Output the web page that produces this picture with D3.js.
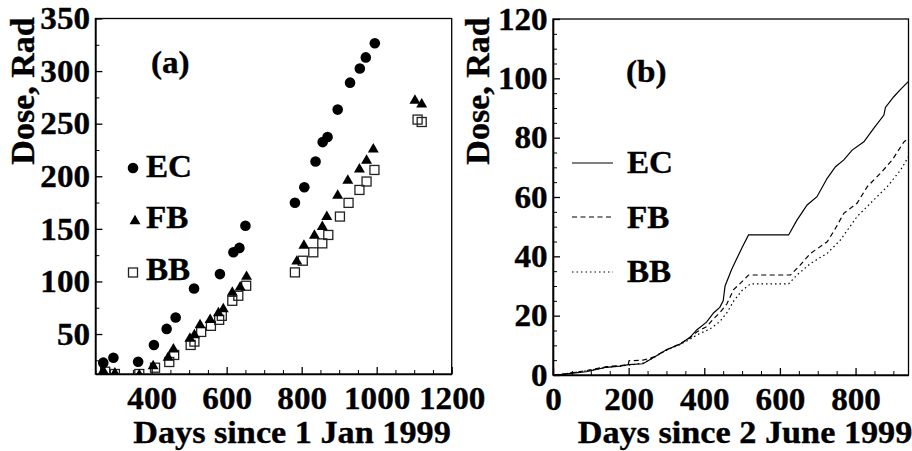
<!DOCTYPE html>
<html>
<head>
<meta charset="utf-8">
<script src="https://cdn.jsdelivr.net/npm/d3@7"></script>
<style>
  html, body { margin: 0; padding: 0; background: #fff; }
  svg { display: block; }
  text { font-family: "Liberation Serif", "Times New Roman", serif; font-weight: bold; fill: #000;
         stroke: #000; stroke-width: 0.35px; }
</style>
</head>
<body>
<svg id="chart" width="912" height="451"></svg>
<script>
// ---------- Panel (a) data: days since 1 Jan 1999 vs dose (Rad) ----------
const ecDays = [271, 298, 364, 406, 440, 464, 513, 582, 618, 634, 650, 782, 807, 837, 856, 869, 896, 929, 955, 971, 995];
const ecDose = [22.8, 27.5, 23.7, 39.6, 54.9, 65.7, 93.3, 107, 127.7, 131.9, 153, 174.8, 189.6, 214, 232.5, 237.3, 263.4, 289, 302.5, 313, 326.4];

const fbDays = [271, 302, 367, 404, 444, 458, 502, 514, 529, 556, 578, 591, 615, 636, 653, 787, 806, 834, 855, 867, 896, 923, 954, 973, 991, 1102, 1120];
const fbDose = [14.9, 12.7, 11, 19.6, 27.5, 35.5, 45.7, 48.9, 58.4, 63.5, 69.9, 73.7, 89.5, 94.3, 104.5, 119, 134, 143.6, 152, 161.5, 181.7, 196, 206.5, 215, 225.6, 272, 268.5];

const bbDays = [276, 302, 367, 409, 447, 460, 504, 514, 532, 558, 580, 587, 615, 631, 652, 782, 803, 831, 855, 871, 902, 925, 954, 973, 994, 1109, 1120];
const bbDose = [14.2, 12, 12, 18, 23.4, 30.1, 39.6, 42.8, 52, 57.8, 63.5, 67.3, 81.6, 86.4, 95.9, 108.6, 119.7, 127.7, 136.2, 144.2, 161.7, 174.7, 187, 195, 206, 253.9, 251.6];

const aXTicks = [400, 600, 800, 1000, 1200];
const aYTicks = [50, 100, 150, 200, 250, 300, 350];

// ---------- Panel (b) data: days since 2 June 1999 vs cumulative dose ----------
const ecLineDays = [0, 26, 53, 88, 115, 141, 177, 200, 238, 265, 300, 336, 362, 380, 406, 425, 441, 450, 455, 472, 487, 500, 517, 623, 645, 672, 698, 725, 747, 769, 791, 822, 848, 875, 879, 901, 919, 940];
const ecLineDose = [0, 0.2, 0.6, 1.1, 1.9, 2.6, 3.0, 3.5, 3.8, 5.8, 8.5, 10.4, 12.7, 15.2, 17.8, 21, 22.8, 25, 30, 35.5, 39.5, 43, 47.2, 47.2, 52.2, 57.3, 60.1, 66.3, 70.2, 72.5, 75.8, 78.6, 83.1, 87.6, 90.2, 93.8, 96.3, 99];

const fbLineDays = [0, 26, 53, 88, 115, 141, 177, 199, 201, 238, 265, 300, 336, 362, 380, 406, 425, 441, 460, 477, 504, 517, 628, 654, 681, 725, 745, 769, 804, 831, 866, 897, 928, 940];
const fbLineDose = [0, 0.3, 0.8, 1.5, 2.2, 2.8, 3.2, 3.4, 4.8, 5.0, 6.0, 8.5, 10.5, 12.5, 14.5, 16.3, 19, 21, 24, 28.7, 32, 33.7, 33.7, 37.1, 41, 44.9, 49, 54.5, 57.9, 63.5, 68, 72.5, 78.6, 79.8];

const bbLineDays = [0, 26, 53, 88, 115, 141, 177, 200, 238, 265, 300, 336, 362, 380, 415, 441, 460, 478, 500, 522, 623, 645, 681, 725, 760, 804, 848, 884, 919, 940];
const bbLineDose = [0, 0.3, 0.8, 1.4, 2.0, 2.6, 3.0, 3.3, 4.0, 5.8, 8.3, 10.3, 12.0, 13.5, 15.5, 18, 21, 25, 28.5, 30.7, 30.7, 33.7, 37.6, 41, 45.5, 53.4, 59, 63.5, 69.1, 73.6];

const bXTicks = [0, 200, 400, 600, 800];
const bYTicks = [0, 20, 40, 60, 80, 100, 120];

const seriesNames = ["EC", "FB", "BB"];

// ---------- Drawing ----------
const svg = d3.select("#chart");
const FS = 31, FS_TITLE = 32, SX = 1.07;

function addText(g, x, y, str, size, anchor) {
  return g.append("text").attr("transform", `translate(${x},${y}) scale(${SX},1)`)
    .attr("font-size", size).attr("text-anchor", anchor || "start").text(str);
}

function framePanel(g, x, y) {
  const [x0, x1] = x.range(), [y0, y1] = y.range();
  g.append("rect").attr("x", x0).attr("y", y1).attr("width", x1 - x0).attr("height", y0 - y1)
    .attr("fill", "none").attr("stroke", "#000").attr("stroke-width", 1.3);
}

function axes(g, x, y, xMajor, xMinor, yMajor, yMinor) {
  const [x0] = x.range(), [y0] = y.range();
  g.append("g").attr("transform", `translate(0,${y0})`)
    .call(d3.axisBottom(x).tickValues(xMinor).tickSize(-4).tickSizeOuter(0).tickFormat(""))
    .call(s => s.select(".domain").remove());
  g.append("g").attr("transform", `translate(${x0},0)`)
    .call(d3.axisLeft(y).tickValues(yMinor).tickSize(-4).tickSizeOuter(0).tickFormat(""))
    .call(s => s.select(".domain").remove());
  const gx = g.append("g").attr("transform", `translate(0,${y0})`)
    .call(d3.axisBottom(x).tickValues(xMajor).tickSize(-7).tickSizeOuter(0).tickPadding(0).tickFormat(d3.format("d")));
  gx.select(".domain").attr("stroke-width", 1.6);
  gx.selectAll(".tick line").attr("stroke-width", 1.3);
  gx.selectAll("text").attr("font-size", FS).attr("font-family", null).attr("dy", null).attr("y", 35.5)
    .attr("transform", `scale(${SX},1)`);
  const gy = g.append("g").attr("transform", `translate(${x0},0)`)
    .call(d3.axisLeft(y).tickValues(yMajor).tickSize(-7).tickSizeOuter(0).tickPadding(5).tickFormat(d3.format("d")));
  gy.select(".domain").attr("stroke-width", 1.6);
  gy.selectAll(".tick line").attr("stroke-width", 1.3);
  gy.selectAll("text").attr("font-size", FS).attr("font-family", null).attr("dy", "0.33em")
    .attr("transform", `scale(${SX},1)`);
  g.selectAll(".tick line").attr("stroke", "#000");
}

function range(a, b, s) { const r = []; for (let v = a; v <= b + 1e-9; v += s) r.push(v); return r; }

// Panel (a)
const xA = d3.scaleLinear().domain([250, 1200]).range([95.4, 451.7]);
const yA = d3.scaleLinear().domain([12, 350]).range([374, 18.5]);
const gA = svg.append("g");
svg.append("clipPath").attr("id", "clipA").append("rect")
  .attr("x", 95.4).attr("y", 18.5).attr("width", 451.7 - 95.4).attr("height", 374 - 18.5);

framePanel(gA, xA, yA);
axes(gA, xA, yA, aXTicks, range(250, 1200, 50).filter(v => !aXTicks.includes(v)),
     aYTicks, range(25, 350, 25).filter(v => !aYTicks.includes(v)));

const ptsA = gA.append("g").attr("clip-path", "url(#clipA)");
const tri = d3.symbol().type(d3.symbolTriangle).size(52);
const ecPts = ecDays.map((d, i) => [d, ecDose[i]]);
const fbPts = fbDays.map((d, i) => [d, fbDose[i]]);
const bbPts = bbDays.map((d, i) => [d, bbDose[i]]);
ptsA.selectAll(".bb").data(bbPts).join("rect")
  .attr("x", d => xA(d[0]) - 4.5).attr("y", d => yA(d[1]) - 4.5).attr("width", 9).attr("height", 9)
  .attr("fill", "none").attr("stroke", "#222").attr("stroke-width", 1.3);
ptsA.selectAll(".fb").data(fbPts).join("path")
  .attr("d", tri).attr("transform", d => `translate(${xA(d[0])},${yA(d[1])})`).attr("fill", "#000");
ptsA.selectAll(".ec").data(ecPts).join("circle")
  .attr("cx", d => xA(d[0])).attr("cy", d => yA(d[1])).attr("r", 5.3).attr("fill", "#000");

// legend (a)
gA.append("circle").attr("cx", 133).attr("cy", 168).attr("r", 5.3).attr("fill", "#000");
gA.append("path").attr("d", tri).attr("transform", "translate(135,221)").attr("fill", "#000");
gA.append("rect").attr("x", 128.5).attr("y", 268).attr("width", 9).attr("height", 9)
  .attr("fill", "none").attr("stroke", "#222").attr("stroke-width", 1.3);
[[seriesNames[0], 177], [seriesNames[1], 228], [seriesNames[2], 280]].forEach(([t, yb]) =>
  addText(gA, 146, yb, t, FS));
addText(gA, 151, 73, "(a)", FS);

addText(gA, 292, 443, "Days since 1 Jan 1999", FS_TITLE, "middle");
gA.append("text").attr("transform", "translate(34,91) rotate(-90)").attr("text-anchor", "middle")
  .attr("font-size", 34).text("Dose, Rad");

// Panel (b)
const xB = d3.scaleLinear().domain([0, 940]).range([553, 908.5]);
const yB = d3.scaleLinear().domain([0, 120]).range([375, 19]);
const gB = svg.append("g");
svg.append("clipPath").attr("id", "clipB").append("rect")
  .attr("x", 553).attr("y", 19).attr("width", 908.5 - 553).attr("height", 375 - 19);
framePanel(gB, xB, yB);
axes(gB, xB, yB, bXTicks, range(50, 900, 50).filter(v => !bXTicks.includes(v)),
     bYTicks, range(5, 120, 5).filter(v => !bYTicks.includes(v)));

const line = d3.line().x(d => xB(d[0])).y(d => yB(d[1]));
const styles = [
  { days: ecLineDays, dose: ecLineDose, dash: null },
  { days: fbLineDays, dose: fbLineDose, dash: "5,3.5" },
  { days: bbLineDays, dose: bbLineDose, dash: "1.5,3" }
];
const linesG = gB.append("g").attr("clip-path", "url(#clipB)");
styles.forEach(s => {
  linesG.append("path").datum(s.days.map((d, i) => [d, s.dose[i]]))
    .attr("d", line).attr("fill", "none").attr("stroke", "#000").attr("stroke-width", 1.2)
    .attr("stroke-dasharray", s.dash);
});

[[163, 173, null], [217, 228, "5,3.5"], [272, 282, "1.5,3"]].forEach(([ly, tb, dash], i) => {
  gB.append("line").attr("x1", 572).attr("x2", 613).attr("y1", ly).attr("y2", ly)
    .attr("stroke", "#000").attr("stroke-width", 1.2).attr("stroke-dasharray", dash);
  addText(gB, 627, tb, seriesNames[i], FS);
});
addText(gB, 626, 82, "(b)", FS);

addText(gB, 745, 443, "Days since 2 June 1999", FS_TITLE, "middle");
gB.append("text").attr("transform", "translate(489,91) rotate(-90)").attr("text-anchor", "middle")
  .attr("font-size", 34).text("Dose, Rad");
</script>
</body>
</html>
